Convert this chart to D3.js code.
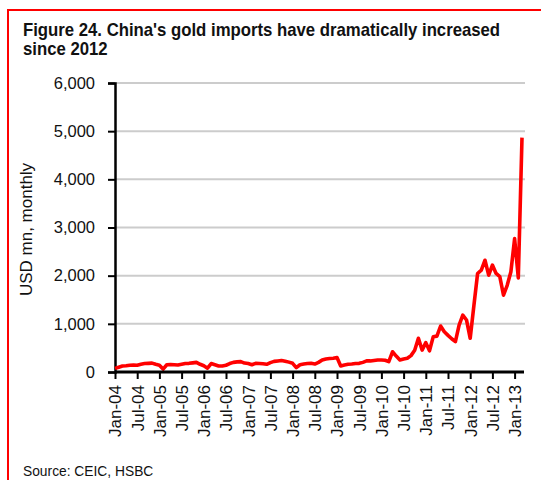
<!DOCTYPE html>
<html>
<head>
<meta charset="utf-8">
<script src="https://cdn.jsdelivr.net/npm/d3@7"></script>
<style>
  html, body { margin: 0; padding: 0; background: #fff; }
  svg { display: block; }
  text { font-family: "Liberation Sans", Arial, sans-serif; }
</style>
</head>
<body>
<svg id="chart" width="541" height="480"></svg>
<script>
// Monthly gold imports, USD mn, Jan-2004 .. Mar-2013
const startYear = 2004;
const values = [
  75, 100, 125, 130, 140, 145, 140, 160, 175, 180, 185, 160,      // 2004
  140, 60, 150, 155, 150, 145, 160, 175, 180, 190, 200, 160,      // 2005
  130, 80, 175, 150, 125, 125, 140, 175, 200, 210, 215, 185,      // 2006
  175, 150, 180, 175, 170, 160, 195, 220, 230, 240, 225, 205,     // 2007
  180, 90, 150, 165, 175, 180, 165, 200, 250, 270, 280, 285,      // 2008
  300, 125, 145, 160, 165, 175, 180, 200, 230, 230, 240, 250,     // 2009
  250, 245, 215, 420, 330, 250, 270, 285, 340, 450, 700, 455,     // 2010
  610, 440, 730, 745, 955, 835, 760, 690, 630, 975, 1180, 1080,   // 2011
  700, 1380, 2045, 2115, 2320, 2010, 2220, 2045, 1980, 1595, 1800, 2080, // 2012
  2770, 1955, 4865                                                // 2013
];
const yTicks = [0, 1000, 2000, 3000, 4000, 5000, 6000];
const monthNames = ["Jan", "Feb", "Mar", "Apr", "May", "Jun", "Jul", "Aug", "Sep", "Oct", "Nov", "Dec"];
const xTickIdx = d3.range(0, values.length, 6);

const title = ["Figure 24. China's gold imports have dramatically increased", "since 2012"];
const yTitle = "USD mn, monthly";
const source = "Source: CEIC, HSBC";

const svg = d3.select("#chart");

// frame: red rule on top and left
svg.append("line").attr("x1", 7).attr("x2", 541).attr("y1", 10).attr("y2", 10)
  .attr("stroke", "#ff0000").attr("stroke-width", 2);
svg.append("line").attr("x1", 8).attr("x2", 8).attr("y1", 9).attr("y2", 480)
  .attr("stroke", "#ff0000").attr("stroke-width", 2);

// title in a narrow bold face: squeeze the first line to fit inside the frame
const titleScale = 0.905;
const titleG = svg.append("g").attr("transform", `translate(23,0) scale(${titleScale},1)`);
titleG.selectAll("text").data(title).join("text")
  .attr("x", 0).attr("y", (d, i) => 36 + i * 19)
  .attr("font-size", 18.5).attr("font-weight", "bold").attr("fill", "#111")
  .text(d => d);

const plotLeft = 115, plotRight = 524, plotTop = 83, plotBottom = 372;

const x = d3.scaleLinear().domain([0, values.length - 1]).range([plotLeft, 522]);
const y = d3.scaleLinear().domain([0, 6000]).range([plotBottom, plotTop]);

// gridlines
svg.append("g").selectAll("line").data(yTicks.filter(d => d > 0)).join("line")
  .attr("x1", plotLeft).attr("x2", 525)
  .attr("y1", d => y(d)).attr("y2", d => y(d))
  .attr("stroke", "#cccccc").attr("stroke-width", 2);

// y axis
const yAxis = svg.append("g").attr("transform", `translate(${plotLeft},0)`)
  .call(d3.axisLeft(y).tickValues(yTicks).tickFormat(d3.format(",")).tickSize(7).tickPadding(13));
yAxis.select(".domain").attr("stroke", "#000").attr("stroke-width", 2.5);
yAxis.selectAll(".tick line").attr("stroke", "#000").attr("stroke-width", 2);
yAxis.selectAll(".tick text").attr("font-size", 16.5).attr("fill", "#111")
  .attr("font-family", null);

svg.append("text")
  .attr("transform", `translate(32,${(plotTop + plotBottom) / 2 + 2}) rotate(-90)`)
  .attr("text-anchor", "middle").attr("font-size", 17).attr("fill", "#111")
  .text(yTitle);

// line
svg.append("path").datum(values)
  .attr("fill", "none").attr("stroke", "#ff0000").attr("stroke-width", 3.6)
  .attr("stroke-linejoin", "round")
  .attr("d", d3.line().x((d, i) => x(i)).y(d => y(d)));

// x axis
const xAxis = svg.append("g").attr("transform", `translate(0,${plotBottom})`)
  .call(d3.axisBottom(x).tickValues(xTickIdx).tickSize(7).tickPadding(6)
    .tickFormat(i => monthNames[i % 12] + "-" + String(startYear + Math.floor(i / 12)).slice(2)));
xAxis.select(".domain").attr("d", `M${plotLeft},0H${plotRight}`).attr("stroke", "#000").attr("stroke-width", 3);
xAxis.selectAll(".tick line").attr("stroke", "#000").attr("stroke-width", 2);
xAxis.selectAll(".tick text")
  .attr("font-size", 17).attr("fill", "#111").attr("font-family", null)
  .attr("text-anchor", "end").attr("dy", "0.35em")
  .attr("transform", "translate(0,13) rotate(-90)")
  .attr("x", 0).attr("y", 0);

// source
svg.append("g").attr("transform", "translate(23,476) scale(0.92,1)")
  .append("text").attr("x", 0).attr("y", 0)
  .attr("font-size", 15).attr("fill", "#111")
  .text(source);
</script>
</body>
</html>
